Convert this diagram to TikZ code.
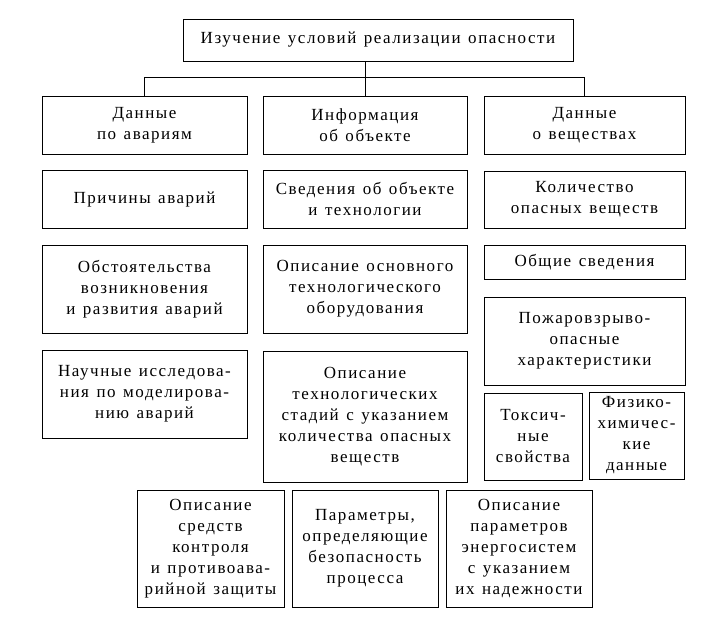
\documentclass[tikz,border=0pt]{standalone}
\usepackage{fontspec}
\setmainfont[LetterSpace=9,WordSpace=1.3]{Liberation Serif}
\tikzset{
  box/.style={draw, line width=0.9pt, align=center, inner sep=0pt,
    font=\fontsize{17}{21}\selectfont},
  link/.style={draw, line width=0.9pt}
}
\newcommand\bx[6]{%
  \node[box, minimum width={(#4-#2)*1pt}, minimum height={(#5-#3)*1pt}]
    (#1) at ({(#2+#4)/2},{(#3+#5)/2}) {#6};}
\begin{document}
\begin{tikzpicture}[x=1pt,y=-1pt]
\useasboundingbox (0,0) rectangle (710,622);
\bx{top}{183}{19}{573}{61}{Изучение условий реализации опасности}
\bx{A}{42}{96}{247}{154}{Данные\\по авариям}
\bx{B}{263}{96}{467}{154}{Информация\\об объекте}
\bx{C}{484}{96}{685}{154}{Данные\\о веществах}
\bx{a1}{42}{170}{247}{228}{Причины аварий}
\bx{b1}{263}{170}{467}{228}{Сведения об объекте\\и технологии}
\bx{c1}{484}{171}{685}{228}{Количество\\опасных веществ}
\bx{a2}{42}{245}{247}{333}{Обстоятельства\\возникновения\\и развития аварий}
\bx{b2}{263}{245}{467}{333}{Описание основного\\технологического\\оборудования}
\bx{c2}{484}{245}{685}{279}{Общие сведения}
\bx{c3}{484}{297}{685}{385}{Пожаровзрыво-\\опасные\\характеристики}
\bx{a3}{42}{350}{247}{438}{Научные исследова-\\ния по моделирова-\\нию аварий}
\bx{b3}{263}{351}{467}{482}{Описание\\технологических\\стадий с указанием\\количества опасных\\веществ}
\bx{c4}{484}{393}{582}{480}{Токсич-\\ные\\свойства}
\bx{c5}{589}{392}{684}{479}{Физико-\\химичес-\\кие\\данные}
\bx{d1}{137}{490}{284}{607}{Описание\\средств\\контроля\\и противоава-\\рийной защиты}
\bx{d2}{292}{490}{438}{607}{Параметры,\\определяющие\\безопасность\\процесса}
\bx{d3}{446}{490}{592}{607}{Описание\\параметров\\энергосистем\\с указанием\\их надежности}
\coordinate (hl) at (0,77);
\draw[link] (top.south -| B.north) -- (B.north |- hl);
\draw[link] (A.north) -- (A.north |- hl) -- (C.north |- hl) -- (C.north);
\draw[link] (B.north |- hl) -- (B.north);
\end{tikzpicture}
\end{document}
